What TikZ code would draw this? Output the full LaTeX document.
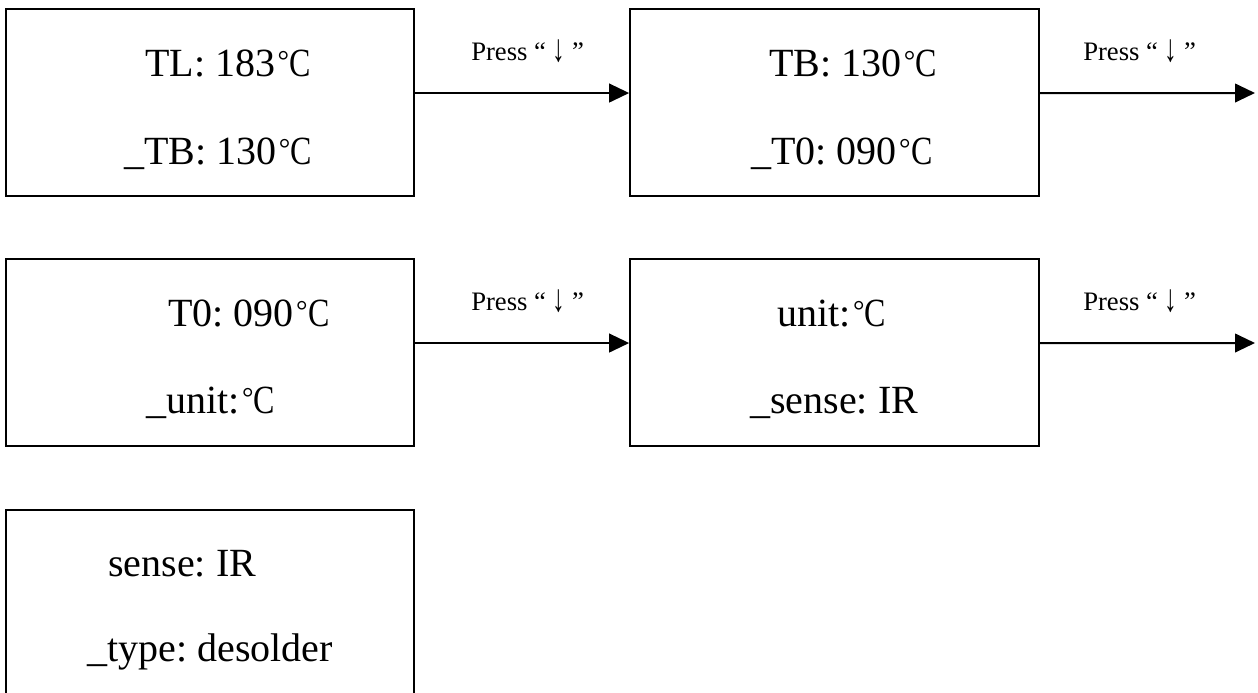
\documentclass[tikz,border=0pt]{standalone}
\usepackage{fontspec}
\usepackage{graphicx}
\setmainfont{Liberation Serif}
\usetikzlibrary{arrows.meta}
\newcommand\dC{\kern0.06em\raisebox{0.14em}{\scalebox{0.72}{°}}\kern0.01em\scalebox{0.8}[1]{C}}
\newcommand\darr{\raisebox{-0.05em}{\scalebox{0.95}[1.45]{↓}}}
\tikzset{
  screen/.style={draw=black, line width=1.5pt, inner sep=0pt, minimum height=140.25pt, minimum width=306.5pt},
  txt/.style={anchor=base west, inner sep=0pt, font=\fontsize{30}{36}\selectfont},
  lbl/.style={anchor=base west, inner sep=0pt, font=\fontsize{20}{24}\selectfont},
  flow/.style={line width=1.5pt, -{Triangle[length=15pt,width=14pt]}}
}
\begin{document}
\frenchspacing
\begin{tikzpicture}[x=0.75pt,y=-0.75pt]
\useasboundingbox (0,0) rectangle (1258,693);
\clip (0,0) rectangle (1258,693);
% boxes
\node[screen] (b1) at (210,102.5) {};
\node[screen] (b2) at (834.5,102.5) {};
\node[screen] (b3) at (210,352.5) {};
\node[screen] (b4) at (834.5,352.5) {};
\node[screen] (b5) at (210,603.5) {};
% texts
\node[txt] (t1a) at (145,76)  {TL: 183\dC};
\node[txt] (t1b) at (124,164) {\_TB: 130\dC};
\node[txt] (t2a) at (769,76)  {TB: 130\dC};
\node[txt] (t2b) at (751,164) {\_T0: 090\dC};
\node[txt] (t3a) at (168,326) {T0: 090\dC};
\node[txt] (t3b) at (146,413) {\_unit:\dC};
\node[txt] (t4a) at (777,326) {unit:\dC};
\node[txt] (t4b) at (750,413) {\_sense: IR};
\node[txt] (t5a) at (108,576) {sense: IR};
\node[txt] (t5b) at (87,661)  {\_type: desolder};
% labels
\node[lbl] (l1) at (471,60)   {Press “ \darr{} ”};
\node[lbl] (l2) at (1083,60)  {Press “ \darr{} ”};
\node[lbl] (l3) at (471,310)  {Press “ \darr{} ”};
\node[lbl] (l4) at (1083,310) {Press “ \darr{} ”};
% free ends
\coordinate (e1) at (1255,93);
\coordinate (e2) at (1255,343);
% connectors
\draw[flow] ([yshift=7.1pt]b1.east) -- ([yshift=7.1pt]b2.west);
\draw[flow] ([yshift=7.1pt]b2.east) -- (e1);
\draw[flow] ([yshift=7.1pt]b3.east) -- ([yshift=7.1pt]b4.west);
\draw[flow] ([yshift=7.1pt]b4.east) -- (e2);
\end{tikzpicture}
\end{document}
